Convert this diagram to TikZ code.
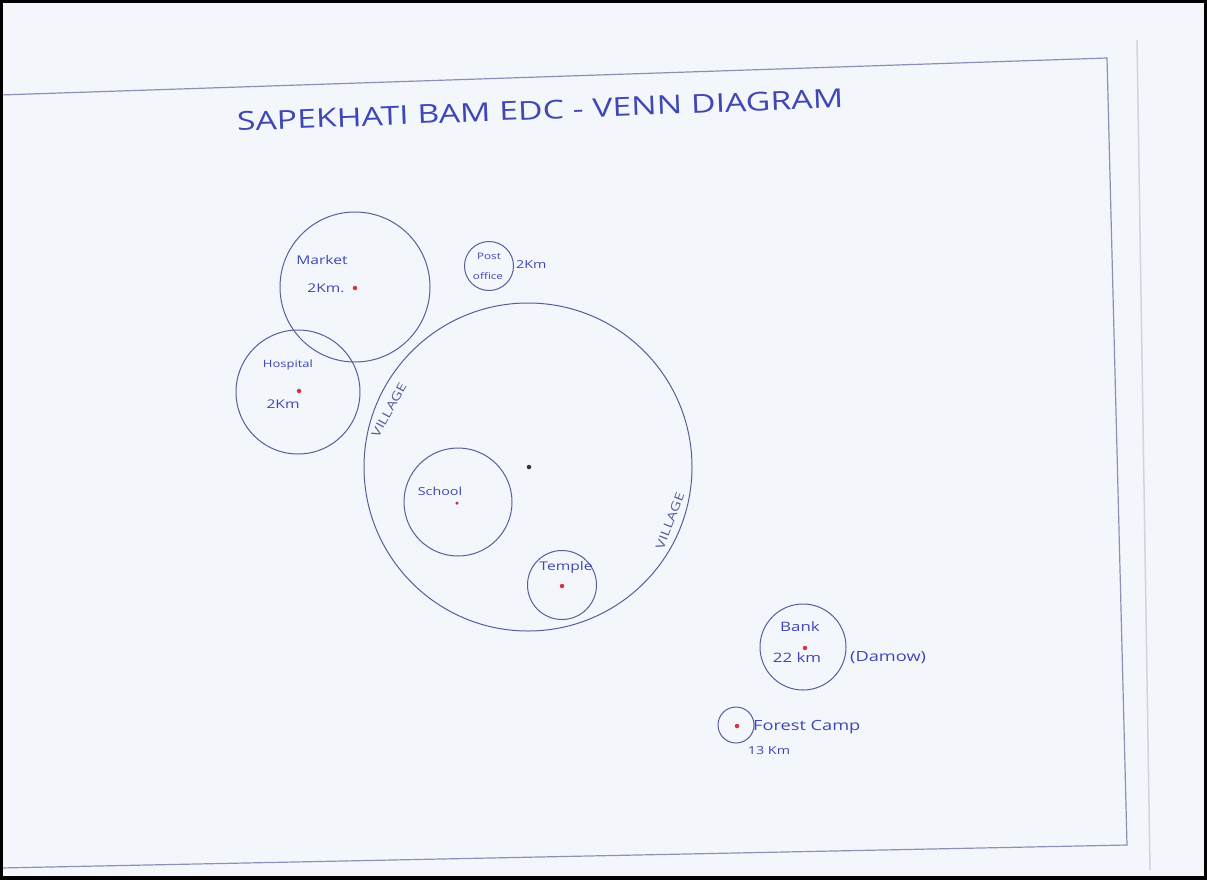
\documentclass[tikz,border=0pt]{standalone}
\usepackage{fontspec}
\setmainfont{Open Sans}[FakeStretch=1.3]
\definecolor{paper}{HTML}{F3F6FA}
\definecolor{ink}{HTML}{3F47B5}
\definecolor{pen}{HTML}{585E9A}
\definecolor{rule}{HTML}{8C90B4}
\definecolor{spot}{HTML}{D6333B}
\begin{document}
\begin{tikzpicture}[x=1pt, y=-1pt, font=\small]
    % Venn diagram of the village and the places round it
    \tikzset{ring/.style={circle, draw=pen, line width=1pt, inner sep=0pt}, reddot/.style={circle, fill=spot, inner sep=0pt, minimum size=4.5pt}, hand/.style={text=ink, inner sep=0pt, font=\fontsize{12}{14}\selectfont}, villagetag/.style={text=pen, inner sep=0pt, font=\fontsize{12}{13}\selectfont}}
    \useasboundingbox (0,0) rectangle (1207,879);
    \fill[paper] (0,0) rectangle (1207,879);
    \draw[rule!40, line width=1.5pt] (1137,40) -- (1150,870);
    \draw[rule, line width=1.2pt] (0,95) -- (1107,58) -- (1127,845) -- (0,868);
    \draw[black, line width=6pt] (0,0) rectangle (1207,879);
    \node[hand, font=\fontsize{26}{30}\selectfont, rotate=2.2] (title) at (540,110) {SAPEKHATI BAM EDC - VENN DIAGRAM};
    % market and hospital
    \node[ring, minimum size=150pt] (market) at (355,287) {};
    \node[reddot] (marketdot) at (355,288) {};
    \node[hand] (marketname) at (322,260) {Market};
    \node[hand] (marketdist) at (326,288) {2Km.};
    \node[ring, minimum size=124pt] (hospital) at (298,392) {};
    \node[reddot] (hospitaldot) at (299,391) {};
    \node[hand, font=\fontsize{10}{12}\selectfont] (hospitalname) at (288,365) {Hospital};
    \node[hand] (hospitaldist) at (283,404) {2Km};
    % post office
    \node[ring, minimum size=49pt] (post) at (489,266) {};
    \node[hand, font=\fontsize{9}{10}\selectfont] (postname) at (489,256) {Post};
    \node[hand, font=\fontsize{9}{10}\selectfont] (postname2) at (488,276) {office};
    \node[hand, font=\fontsize{11}{12}\selectfont, anchor=west] (postdist) at (516,265) {2Km};
    % village
    \node[ring, minimum size=328pt] (village) at (528,467) {};
    \node[circle, fill=black!80, inner sep=0pt, minimum size=4.5pt] (villagedot) at (529,467) {};
    \node[villagetag, rotate=61] (villagetag1) at (389,410) {VILLAGE};
    \node[villagetag, rotate=69] (villagetag2) at (670,521) {VILLAGE};
    \node[ring, minimum size=108pt] (school) at (458,502) {};
    \node[reddot, minimum size=3.5pt] (schooldot) at (457,503) {};
    \node[hand, font=\fontsize{11}{12}\selectfont] (schoolname) at (440,491) {School};
    \node[ring, minimum size=69pt] (temple) at (562,585) {};
    \node[reddot] (templedot) at (562,586) {};
    \node[hand, font=\fontsize{12}{13}\selectfont] (templename) at (566,567) {Temple};
    % bank and forest camp
    \node[ring, minimum size=86pt] (bank) at (803,647) {};
    \node[reddot] (bankdot) at (805,648) {};
    \node[hand, font=\fontsize{13}{14}\selectfont] (bankname) at (800,627) {Bank};
    \node[hand, font=\fontsize{13}{14}\selectfont] (bankdist) at (797,658) {22 km};
    \node[hand, font=\fontsize{14}{15}\selectfont, anchor=west] (banktown) at (850,658) {(Damow)};
    \node[ring, minimum size=36pt] (camp) at (736,725) {};
    \node[reddot] (campdot) at (737,726) {};
    \node[hand, font=\fontsize{14}{15}\selectfont, anchor=west] (campname) at (753,727) {Forest Camp};
    \node[hand, font=\fontsize{11}{12}\selectfont] (campdist) at (769,751) {13 Km};
\end{tikzpicture}
\end{document}
